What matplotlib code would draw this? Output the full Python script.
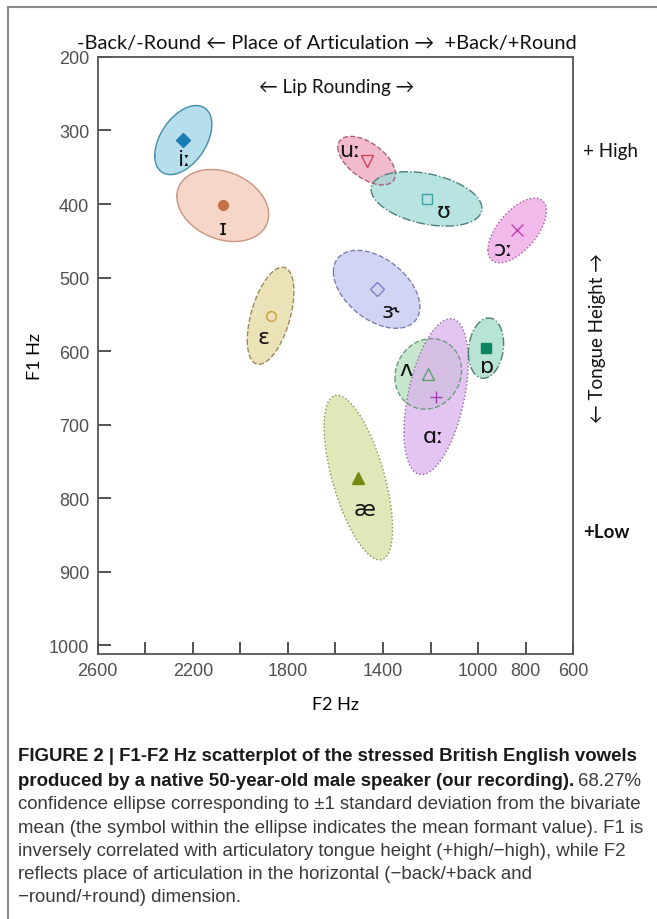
import numpy as np
import matplotlib
matplotlib.use('Agg')
import matplotlib.pyplot as plt
from matplotlib.lines import Line2D

# Mean formants (Hz) of the stressed vowels and their spread
vowels = ['iː', 'ɪ', 'ɛ', 'ɝ', 'uː', 'ʊ', 'ɔː', 'ʌ', 'ɑː', 'ɒ', 'æ']
f2_mean = [2240, 2074, 1873, 1427, 1469, 1217, 836, 1210, 1177, 967, 1504]
f1_mean = [313, 402, 552, 516, 341, 393, 436, 631, 662, 596, 772]
f2_sd = [120, 193, 98, 182, 121, 233, 123, 140, 135, 74, 144]
f1_sd = [47, 49, 66, 53, 33, 37, 44, 48, 106, 41, 112]
f1_f2_corr = [0.45, -0.25, 0.5, -0.45, -0.55, -0.35, 0.6, 0.1, 0.45, 0.15, -0.62]

# where each vowel symbol is written (F2, F1)
label_pos = [(2233, 339), (2074, 433), (1904, 581), (1371, 545), (1539, 327),
             (1147, 409), (894, 461), (1304, 624), (1189, 715), (964, 620),
             (1476, 815)]

fill_cols = ['#9fd3e6', '#f3c9b6', '#e6d9a0', '#c3c6f0', '#eea3bd', '#9fdad6',
             '#eda3e3', '#b4e0bd', '#dcb2ee', '#9fdcc6', '#d6dfa2']
edge_cols = ['#3f8ea8', '#c9957e', '#9a8a58', '#7d7fb3', '#ad5f80', '#4f807e',
             '#9f5f9f', '#6d9c7a', '#8a6b9e', '#4f8070', '#8c8e5c']
edge_styles = ['-', '-', '--', '--', '--', '-.', ':', '--', ':', '-.', ':']
mk_shape = ['D', 'o', 'o', 'D', 'v', 's', 'x', '^', '+', 's', '^']
mk_cols = ['#1b7db3', '#c6714c', '#c9a03c', '#7f82c9', '#d4405f', '#3ea3a1',
           '#c23fb2', '#5fa26c', '#a13cb4', '#0f8460', '#78880f']
mk_filled = [True, True, False, False, False, False, True, False, True, True, True]

fig = plt.figure(figsize=(6.57, 9.2), dpi=100)
ax = fig.add_axes([0.1487, 0.288, 0.7239, 0.649])

t = np.linspace(0, 2 * np.pi, 300)
for i, v in enumerate(vowels):
    r = f1_f2_corr[i]
    ex = f2_mean[i] + f2_sd[i] * np.cos(t)
    ey = f1_mean[i] + f1_sd[i] * (r * np.cos(t) + np.sqrt(1 - r ** 2) * np.sin(t))
    ax.fill(ex, ey, color=fill_cols[i], alpha=0.75, lw=0, zorder=2)
    ax.plot(ex, ey, color=edge_cols[i], ls=edge_styles[i], lw=1.0, zorder=3)

    face = mk_cols[i] if mk_filled[i] else 'none'
    ax.plot(f2_mean[i], f1_mean[i], marker=mk_shape[i], ms=8 if mk_shape[i] in '^v+x' else 7,
            mfc=face, mec=mk_cols[i], mew=1.0, ls='none', zorder=4)
    lx, ly = label_pos[i]
    ax.text(lx, ly, v, fontsize=16, family=['DejaVu Sans'], ha='center', va='center',
            color='#111111', zorder=5)

ax.set_xlim(2600, 600)
ax.set_ylim(1012, 200)
ax.set_xticks(np.arange(600, 2601, 200))
ax.set_xticklabels(['600', '800', '1000', '', '1400', '', '1800', '', '2200', '', '2600'])
ax.set_yticks(np.arange(200, 1001, 100))

tick_font = ['Liberation Sans Narrow', 'Liberation Sans']
for lab in ax.get_xticklabels() + ax.get_yticklabels():
    lab.set_family(tick_font)
    lab.set_fontsize(13)
    lab.set_color('#505050')
ax.tick_params(direction='in', length=9, width=1.3, color='#444444', pad=6)
for s in ['top', 'right', 'left', 'bottom']:
    ax.spines[s].set_color('#555555')
    ax.spines[s].set_linewidth(1.3)

head_font = ['Lato', 'DejaVu Sans']
ax.set_xlabel('F2 Hz', fontsize=13, family=head_font)
ax.set_ylabel('F1 Hz', fontsize=13, family=head_font)
ax.xaxis.set_label_coords(0.5, -0.0704)
ax.yaxis.set_label_coords(-0.115, 0.5)

fig.text(327 / 657, 1 - 43 / 920, '-Back/-Round \u2190 Place of Articulation \u2192  +Back/+Round',
         fontsize=14.4, family=head_font, ha='center', va='center', color='#111111')
fig.text(337 / 657, 1 - 88 / 920, '\u2190 Lip Rounding \u2192', fontsize=13.5, family=head_font,
         ha='center', va='center', color='#111111')
fig.text(583 / 657, 1 - 152 / 920, '+ High', fontsize=13.5, family=head_font,
         ha='left', va='center', color='#111111')
fig.text(583 / 657, 1 - 532 / 920, '+Low', fontsize=13.5, family=head_font, weight='bold',
         ha='left', va='center', color='#111111')
fig.text(597 / 657, 1 - 338 / 920, '\u2190 Tongue Height \u2192', fontsize=13.5, family=head_font,
         rotation=90, ha='center', va='center', color='#111111')

# box round the panel
fig.add_artist(Line2D([7.5 / 657, 7.5 / 657], [0, 1 - 8 / 920], transform=fig.transFigure,
                      color='#8a8a8a', lw=1.5))
fig.add_artist(Line2D([7.5 / 657, 1], [1 - 8 / 920, 1 - 8 / 920], transform=fig.transFigure,
                      color='#8a8a8a', lw=1.5))

# caption
cap_font = ['Liberation Sans', 'DejaVu Sans']
cap_size = 13.4
x0 = 18 / 657
rows = [757, 781, 805, 829, 852, 875, 898]
fig.text(x0, 1 - rows[0] / 920,
         'FIGURE 2 | F1-F2 Hz scatterplot of the stressed British English vowels',
         fontsize=cap_size, family=cap_font, weight='bold', va='center', color='#1a1a1a')
bold2 = fig.text(x0, 1 - rows[1] / 920,
                 'produced by a native 50-year-old male speaker (our recording).',
                 fontsize=cap_size, family=cap_font, weight='bold', va='center', color='#1a1a1a')
renderer = fig.canvas.get_renderer()
bb = bold2.get_window_extent(renderer=renderer)
fig.text(bb.x1 / fig.bbox.width + 4 / 657, 1 - rows[1] / 920, '68.27%',
         fontsize=cap_size, family=cap_font, va='center', color='#3a3a3a')
plain = [
    'confidence ellipse corresponding to \u00b11 standard deviation from the bivariate',
    'mean (the symbol within the ellipse indicates the mean formant value). F1 is',
    'inversely correlated with articulatory tongue height (+high/\u2212high), while F2',
    'reflects place of articulation in the horizontal (\u2212back/+back and',
    '\u2212round/+round) dimension.',
]
for k, line in enumerate(plain):
    fig.text(x0, 1 - rows[k + 2] / 920, line, fontsize=cap_size, family=cap_font,
             va='center', color='#3a3a3a')

fig.savefig('out.png', dpi=100)
